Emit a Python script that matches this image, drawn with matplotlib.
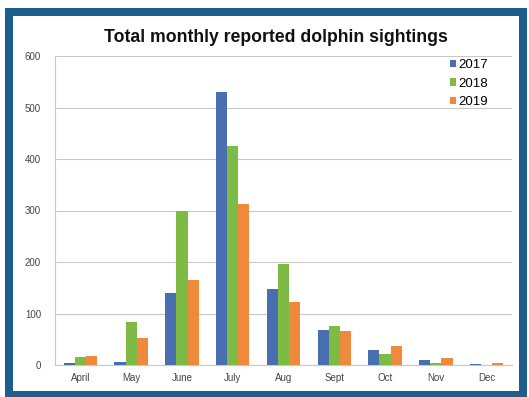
import matplotlib
matplotlib.use("Agg")
import matplotlib.pyplot as plt
import numpy as np
from matplotlib.patches import Rectangle

plt.rcParams["font.family"] = ["Liberation Sans", "DejaVu Sans"]

months = ["April", "May", "June", "July", "Aug", "Sept", "Oct", "Nov", "Dec"]
years = ["2017", "2018", "2019"]
s2017 = [3, 6, 140, 530, 148, 68, 30, 9, 1]
s2018 = [16, 83, 300, 426, 197, 76, 22, 3, 0]
s2019 = [17, 52, 166, 313, 122, 66, 37, 13, 3]
yticks = [0, 100, 200, 300, 400, 500, 600]

colors = ["#4a6fb0", "#7dbb45", "#ef8a3c"]

W, H = 529, 397
fig = plt.figure(figsize=(W / 100, H / 100), dpi=100)
fig.patch.set_facecolor("white")

# background axes for the outer blue frame
bg = fig.add_axes([0, 0, 1, 1], zorder=0)
bg.set_xlim(0, W)
bg.set_ylim(H, 0)
bg.axis("off")
frame_col = "#1d5e8c"
t = 8
x0, y0, x1, y1 = 5, 8, 527, 397
bg.add_patch(Rectangle((x0, y0), x1 - x0, y1 - y0, facecolor=frame_col, edgecolor="none"))
bg.add_patch(Rectangle((x0 + t, y0 + t), x1 - x0 - 2 * t, y1 - y0 - 2 * t + 2,
                       facecolor="white", edgecolor="none"))

ax_l, ax_r, ax_t, ax_b = 55, 512, 56, 365
ax = fig.add_axes([ax_l / W, 1 - ax_b / H, (ax_r - ax_l) / W, (ax_b - ax_t) / H], zorder=2)
ax.set_facecolor("none")

x = np.arange(len(months))
w = 0.22
for i, (vals, yr) in enumerate(zip([s2017, s2018, s2019], years)):
    ax.bar(x + (i - 1) * w, vals, width=w, color=colors[i], label=yr, zorder=3)

ax.set_ylim(0, 600)
ax.set_xlim(-0.5, len(months) - 0.5)
ax.set_yticks(yticks)
ax.set_xticks(x)
ax.set_xticklabels(months)
ax.tick_params(axis="both", length=0, labelsize=7, labelcolor="#444444")
ax.tick_params(axis="x", pad=6)
ax.tick_params(axis="y", pad=10)
ax.grid(axis="y", color="#c8c8c8", linewidth=0.8, zorder=0)
for sp in ["top", "right"]:
    ax.spines[sp].set_visible(False)
ax.spines["left"].set_color("#c8c8c8")
ax.spines["bottom"].set_color("#c8c8c8")

leg = ax.legend(loc="upper left", bbox_to_anchor=((450 - ax_l) / (ax_r - ax_l), 0.99),
                frameon=False, fontsize=9.5, handlelength=0.45, handleheight=0.45,
                handletextpad=0.15, labelspacing=0.5, borderaxespad=0.0, borderpad=0.0)

fig.text(276 / W, 1 - 37 / H, "Total monthly reported dolphin sightings",
         ha="center", va="center", fontsize=12.7, fontweight="bold", color="#111111",
         zorder=3)

fig.savefig("out.png", dpi=100)
